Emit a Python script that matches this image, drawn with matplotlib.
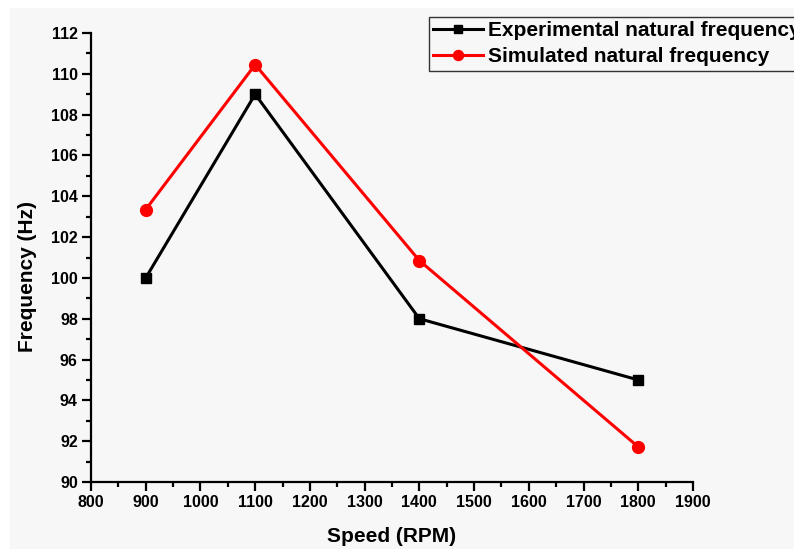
import matplotlib
matplotlib.use("Agg")
import matplotlib.pyplot as plt
from matplotlib.patches import Rectangle
from matplotlib.ticker import MultipleLocator

# Rotor speed (RPM) and natural frequency (Hz)
speed = [900, 1100, 1400, 1800]
experimental = [100.0, 109.0, 98.0, 95.0]
simulated = [103.35, 110.45, 100.85, 91.72]

x_ticks = [800, 900, 1000, 1100, 1200, 1300, 1400, 1500, 1600, 1700, 1800, 1900]
y_ticks = [90, 92, 94, 96, 98, 100, 102, 104, 106, 108, 110, 112]

plt.rcParams['font.family'] = ['Liberation Sans', 'DejaVu Sans']
plt.rcParams['font.weight'] = 'bold'

W, H, DPI = 794, 551, 100
fig = plt.figure(figsize=(W / DPI, H / DPI), dpi=DPI, facecolor='white')
bg = '#f7f7f7'
fig.patches.append(Rectangle((10 / W, 2 / H), 1 - 10 / W, (H - 10) / H,
                             transform=fig.transFigure, facecolor=bg,
                             edgecolor='none', zorder=-10))

ax = fig.add_axes([91 / W, (H - 482) / H, 602 / W, 449 / H])
ax.set_facecolor('none')
ax.set_zorder(1)

ax.plot(speed, experimental, color='black', lw=2.2, marker='s', ms=7.5,
        label='Experimental natural frequency', zorder=3, clip_on=False)
ax.plot(speed, simulated, color='#ff0000', lw=2.2, marker='o', ms=8.5,
        label='Simulated natural frequency', zorder=4, clip_on=False)

ax.set_xlim(x_ticks[0], x_ticks[-1])
ax.set_ylim(y_ticks[0], y_ticks[-1])
ax.set_xticks(x_ticks)
ax.set_yticks(y_ticks)
ax.xaxis.set_minor_locator(MultipleLocator(50))
ax.yaxis.set_minor_locator(MultipleLocator(1))

for side in ('top', 'right'):
    ax.spines[side].set_visible(False)
for side in ('left', 'bottom'):
    ax.spines[side].set_linewidth(1.6)

ax.tick_params(which='major', direction='out', length=6.5, width=1.6,
               labelsize=11.5, pad=3)
ax.tick_params(which='minor', direction='out', length=3.6, width=1.6)
for lbl in ax.get_xticklabels() + ax.get_yticklabels():
    lbl.set_fontweight('bold')

ax.set_xlabel('Speed (RPM)', fontsize=15, fontweight='bold', labelpad=12)
ax.set_ylabel('Frequency (Hz)', fontsize=15, fontweight='bold')
ax.yaxis.set_label_coords(-0.09, 0.458)

leg = fig.legend(loc='upper left', bbox_to_anchor=(429 / W, 1 - 17 / H),
                 fontsize=15, frameon=True, fancybox=False, borderpad=0.2,
                 labelspacing=0.35, handlelength=2.4, handletextpad=0.25,
                 borderaxespad=0, markerscale=0.85)
frame = leg.get_frame()
frame.set_edgecolor('#333333')
frame.set_linewidth(1.0)
frame.set_facecolor(bg)
frame.set_alpha(1)
for t in leg.get_texts():
    t.set_fontweight('bold')

fig.savefig('out.png', dpi=DPI, facecolor='white')
